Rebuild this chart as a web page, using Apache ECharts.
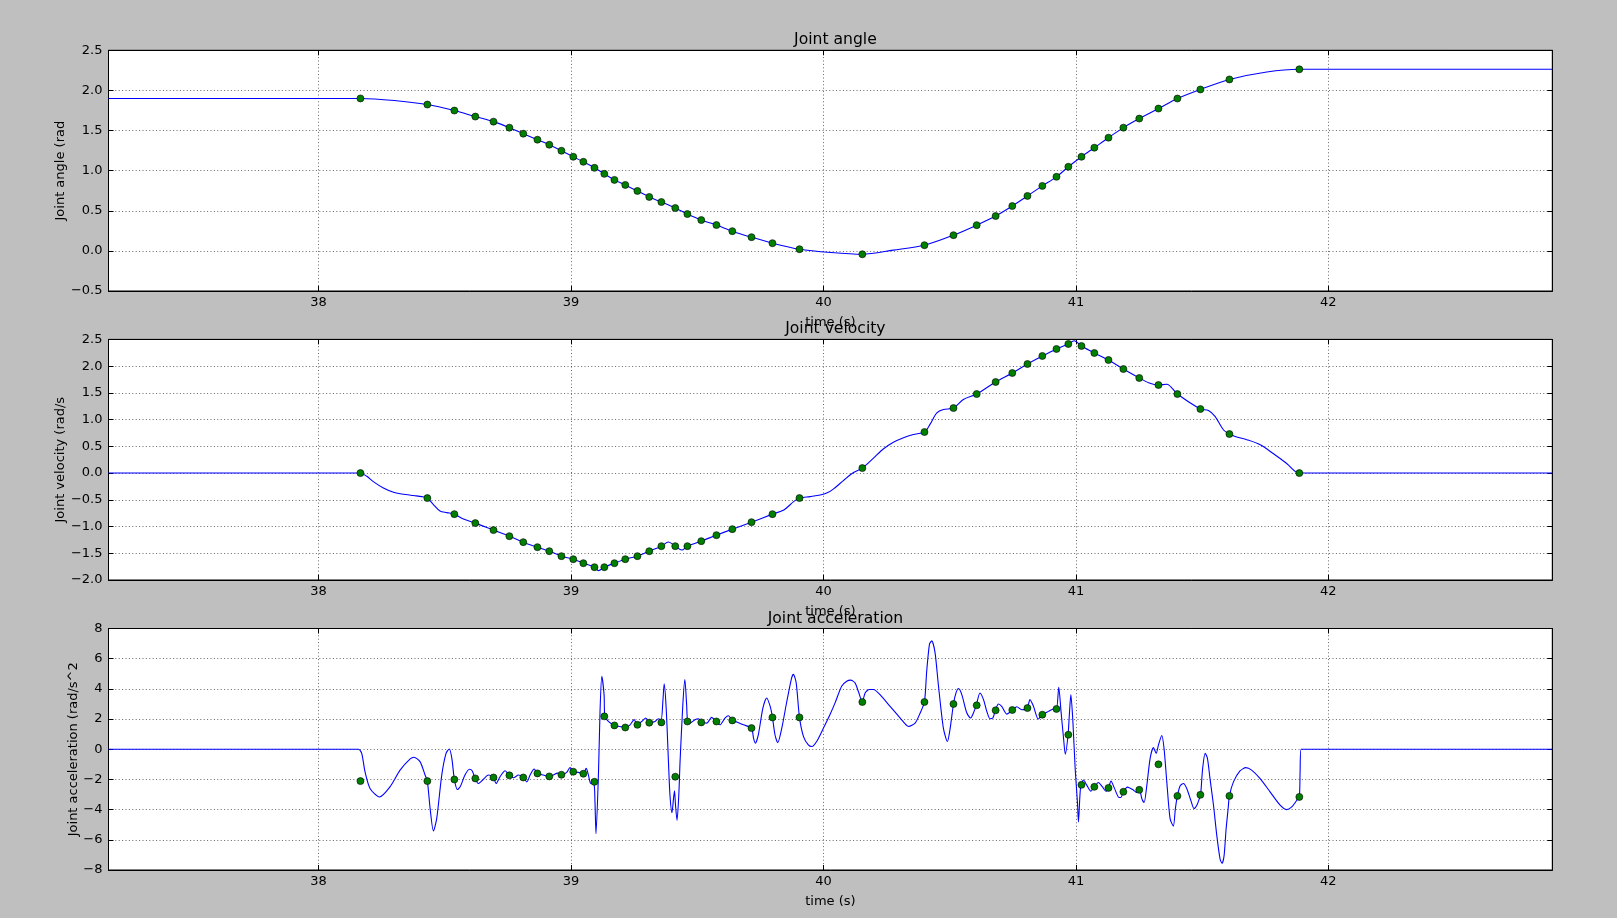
<!DOCTYPE html>
<html><head><meta charset="utf-8">
<script src="https://cdn.jsdelivr.net/npm/echarts@6/dist/echarts.min.js"></script>
<style>html,body{margin:0;padding:0;background:#bfbfbf}#chart{width:1617px;height:918px}</style>
</head><body><div id="chart"></div>
<script>
// ---------------- data ----------------
const titles = ['Joint angle', 'Joint velocity', 'Joint acceleration'];
const yNames = ['Joint angle (rad', 'Joint velocity (rad/s', 'Joint acceleration (rad/s^2'];
const xName = 'time (s)';
const xTicks = [38, 39, 40, 41, 42];
const angleTicks = [-0.5, 0.0, 0.5, 1.0, 1.5, 2.0, 2.5];
const velocityTicks = [-2.0, -1.5, -1.0, -0.5, 0.0, 0.5, 1.0, 1.5, 2.0, 2.5];
const accelTicks = [-8, -6, -4, -2, 0, 2, 4, 6, 8];

const waypointTimes = [38.166, 38.431, 38.538, 38.621, 38.693, 38.756, 38.811, 38.867, 38.914, 38.962, 39.009, 39.049, 39.093, 39.132, 39.172, 39.215, 39.263, 39.310, 39.358, 39.413, 39.461, 39.516, 39.576, 39.639, 39.715, 39.798, 39.905, 40.154, 40.400, 40.515, 40.607, 40.682, 40.748, 40.808, 40.867, 40.923, 40.970, 41.022, 41.073, 41.129, 41.188, 41.251, 41.327, 41.402, 41.493, 41.608, 41.885];
const waypointAngle = [1.90, 1.824, 1.749, 1.674, 1.611, 1.536, 1.461, 1.386, 1.323, 1.248, 1.173, 1.110, 1.035, 0.960, 0.885, 0.822, 0.747, 0.672, 0.609, 0.534, 0.459, 0.384, 0.322, 0.246, 0.171, 0.096, 0.021, -0.042, 0.071, 0.196, 0.321, 0.434, 0.559, 0.685, 0.810, 0.923, 1.048, 1.173, 1.286, 1.411, 1.536, 1.649, 1.774, 1.899, 2.012, 2.137, 2.263];
const waypointVelocity = [0, -0.468, -0.768, -0.936, -1.067, -1.180, -1.292, -1.386, -1.461, -1.554, -1.611, -1.685, -1.760, -1.760, -1.685, -1.611, -1.554, -1.461, -1.367, -1.367, -1.367, -1.273, -1.161, -1.049, -0.918, -0.768, -0.468, 0.093, 0.767, 1.216, 1.478, 1.703, 1.871, 2.040, 2.190, 2.321, 2.414, 2.377, 2.246, 2.115, 1.946, 1.778, 1.647, 1.478, 1.198, 0.730, 0];
const waypointAccel = [-2.11, -2.11, -2.00, -1.93, -1.87, -1.73, -1.87, -1.60, -1.80, -1.69, -1.49, -1.62, -2.16, 2.18, 1.58, 1.44, 1.62, 1.76, 1.78, -1.82, 1.84, 1.78, 1.84, 1.91, 1.40, 2.11, 2.11, 3.13, 3.13, 3.00, 2.91, 2.58, 2.60, 2.73, 2.29, 2.67, 0.96, -2.36, -2.49, -2.56, -2.82, -2.69, -1.00, -3.09, -3.02, -3.09, -3.16];

const angleCurveT = [37.168, 38.166, 38.300, 38.431, 38.538, 38.621, 38.693, 38.756, 38.811, 38.867, 38.914, 38.962, 39.009, 39.049, 39.093, 39.132, 39.172, 39.215, 39.263, 39.310, 39.358, 39.413, 39.461, 39.516, 39.576, 39.639, 39.715, 39.798, 39.905, 40.030, 40.154, 40.277, 40.400, 40.515, 40.607, 40.682, 40.748, 40.808, 40.867, 40.923, 40.970, 41.022, 41.073, 41.129, 41.188, 41.251, 41.327, 41.402, 41.493, 41.608, 41.756, 41.885, 42.887];
const angleCurveV = [1.900, 1.900, 1.875, 1.824, 1.749, 1.674, 1.611, 1.536, 1.461, 1.386, 1.323, 1.248, 1.173, 1.110, 1.035, 0.960, 0.885, 0.822, 0.747, 0.672, 0.609, 0.534, 0.459, 0.384, 0.322, 0.246, 0.171, 0.096, 0.021, -0.020, -0.042, 0.010, 0.071, 0.196, 0.321, 0.434, 0.559, 0.685, 0.810, 0.923, 1.048, 1.173, 1.286, 1.411, 1.536, 1.649, 1.774, 1.899, 2.012, 2.137, 2.230, 2.263, 2.263];

const velocityCurveT = [37.168, 38.166, 38.191, 38.217, 38.257, 38.297, 38.330, 38.376, 38.409, 38.431, 38.455, 38.481, 38.508, 38.538, 38.574, 38.621, 38.693, 38.756, 38.811, 38.867, 38.914, 38.962, 39.009, 39.049, 39.093, 39.109, 39.132, 39.172, 39.215, 39.263, 39.310, 39.358, 39.386, 39.413, 39.439, 39.461, 39.516, 39.576, 39.639, 39.715, 39.798, 39.843, 39.883, 39.905, 39.947, 39.987, 40.013, 40.039, 40.079, 40.119, 40.154, 40.198, 40.237, 40.277, 40.317, 40.356, 40.400, 40.422, 40.449, 40.475, 40.515, 40.554, 40.607, 40.682, 40.748, 40.808, 40.867, 40.923, 40.970, 40.993, 41.022, 41.073, 41.129, 41.188, 41.251, 41.288, 41.327, 41.360, 41.402, 41.493, 41.525, 41.551, 41.584, 41.608, 41.637, 41.677, 41.730, 41.783, 41.836, 41.885, 42.887];
const velocityCurveV = [0, 0, -0.06, -0.16, -0.28, -0.36, -0.39, -0.42, -0.44, -0.468, -0.59, -0.71, -0.74, -0.768, -0.86, -0.936, -1.067, -1.180, -1.292, -1.386, -1.461, -1.554, -1.611, -1.685, -1.760, -1.825, -1.760, -1.685, -1.611, -1.554, -1.461, -1.367, -1.29, -1.367, -1.44, -1.367, -1.273, -1.161, -1.049, -0.918, -0.768, -0.69, -0.53, -0.468, -0.44, -0.41, -0.375, -0.30, -0.14, 0.01, 0.093, 0.28, 0.45, 0.575, 0.66, 0.72, 0.767, 0.91, 1.125, 1.19, 1.216, 1.375, 1.478, 1.703, 1.871, 2.040, 2.190, 2.321, 2.414, 2.475, 2.377, 2.246, 2.115, 1.946, 1.778, 1.69, 1.647, 1.66, 1.478, 1.198, 1.17, 1.06, 0.81, 0.730, 0.675, 0.625, 0.53, 0.36, 0.175, 0, 0];

const accelCurveT = [37.168, 38.158, 38.171, 38.184, 38.204, 38.241, 38.283, 38.323, 38.363, 38.378, 38.402, 38.422, 38.431, 38.442, 38.455, 38.468, 38.488, 38.505, 38.518, 38.528, 38.538, 38.550, 38.561, 38.580, 38.598, 38.609, 38.620, 38.633, 38.650, 38.673, 38.693, 38.703, 38.719, 38.739, 38.756, 38.772, 38.792, 38.811, 38.825, 38.838, 38.854, 38.867, 38.891, 38.914, 38.930, 38.946, 38.962, 38.983, 38.996, 39.010, 39.029, 39.049, 39.060, 39.069, 39.078, 39.091, 39.095, 39.099, 39.109, 39.115, 39.122, 39.131, 39.134, 39.148, 39.171, 39.194, 39.217, 39.234, 39.250, 39.263, 39.280, 39.297, 39.311, 39.333, 39.346, 39.357, 39.364, 39.369, 39.377, 39.386, 39.392, 39.400, 39.406, 39.410, 39.414, 39.420, 39.427, 39.432, 39.443, 39.451, 39.458, 39.462, 39.472, 39.491, 39.505, 39.518, 39.538, 39.557, 39.575, 39.590, 39.610, 39.624, 39.639, 39.657, 39.683, 39.715, 39.723, 39.730, 39.742, 39.760, 39.775, 39.789, 39.798, 39.808, 39.819, 39.835, 39.855, 39.874, 39.881, 39.892, 39.905, 39.921, 39.940, 39.954, 39.973, 40.000, 40.026, 40.046, 40.072, 40.092, 40.108, 40.125, 40.138, 40.154, 40.165, 40.182, 40.198, 40.224, 40.264, 40.304, 40.337, 40.363, 40.383, 40.400, 40.409, 40.420, 40.429, 40.442, 40.455, 40.475, 40.491, 40.502, 40.515, 40.525, 40.535, 40.548, 40.568, 40.583, 40.594, 40.605, 40.620, 40.634, 40.647, 40.660, 40.671, 40.681, 40.693, 40.706, 40.726, 40.749, 40.766, 40.785, 40.807, 40.818, 40.832, 40.851, 40.867, 40.891, 40.911, 40.923, 40.932, 40.941, 40.951, 40.958, 40.969, 40.974, 40.980, 40.988, 40.997, 41.006, 41.010, 41.016, 41.020, 41.030, 41.043, 41.059, 41.073, 41.089, 41.105, 41.119, 41.129, 41.139, 41.152, 41.168, 41.178, 41.188, 41.204, 41.228, 41.241, 41.252, 41.261, 41.270, 41.281, 41.294, 41.307, 41.318, 41.327, 41.340, 41.349, 41.360, 41.373, 41.386, 41.394, 41.402, 41.413, 41.426, 41.439, 41.455, 41.468, 41.479, 41.489, 41.494, 41.502, 41.512, 41.521, 41.531, 41.545, 41.558, 41.571, 41.579, 41.587, 41.595, 41.603, 41.608, 41.624, 41.650, 41.673, 41.696, 41.729, 41.769, 41.809, 41.835, 41.855, 41.875, 41.885, 41.888, 41.892, 42.887];
const accelCurveV = [0, 0, -0.27, -1.49, -2.60, -3.16, -2.49, -1.38, -0.64, -0.53, -0.82, -1.71, -2.11, -3.93, -5.42, -4.60, -1.71, -0.27, 0.02, -0.60, -2.00, -2.67, -2.49, -1.71, -1.33, -1.44, -1.93, -2.27, -2.04, -1.71, -1.87, -2.27, -1.82, -1.42, -1.73, -1.89, -1.71, -1.87, -2.16, -1.71, -1.31, -1.60, -1.71, -1.80, -1.71, -1.58, -1.69, -1.53, -1.22, -1.49, -1.53, -1.62, -1.27, -1.71, -2.27, -2.30, -3.50, -5.60, -1.49, 2.51, 4.84, 3.62, 2.18, 1.84, 1.58, 1.51, 1.44, 1.62, 1.96, 1.62, 1.84, 2.07, 1.76, 1.84, 2.02, 1.95, 3.20, 4.33, 2.73, -0.82, -3.04, -4.20, -3.27, -2.76, -3.71, -4.71, -3.04, -0.82, 2.96, 4.62, 2.96, 1.84, 1.73, 1.96, 2.02, 1.78, 1.73, 2.11, 1.84, 1.62, 2.07, 2.22, 1.91, 1.80, 1.62, 1.40, 0.73, 0.40, 0.96, 2.73, 3.40, 2.84, 2.11, 0.96, 0.44, 1.40, 3.18, 4.73, 4.96, 4.40, 2.11, 0.84, 0.29, 0.18, 0.51, 1.40, 2.30, 3.07, 4.18, 4.51, 4.58, 4.40, 3.84, 3.13, 3.73, 3.96, 3.96, 3.62, 2.84, 2.07, 1.51, 1.73, 2.40, 3.13, 5.18, 6.96, 7.18, 6.40, 4.29, 1.40, 0.51, 1.40, 3.00, 3.73, 4.02, 3.62, 2.40, 2.07, 2.40, 2.91, 3.73, 3.29, 2.51, 2.02, 2.07, 2.58, 3.00, 2.84, 2.33, 2.60, 2.82, 2.62, 2.73, 3.29, 2.84, 2.00, 2.29, 2.51, 2.67, 2.67, 4.11, 2.51, 0.73, -0.33, 0.96, 2.29, 3.62, 1.84, -1.27, -3.49, -4.82, -3.04, -2.36, -2.04, -2.38, -2.78, -2.49, -2.20, -2.49, -2.78, -2.56, -2.11, -2.56, -3.16, -3.20, -2.82, -2.51, -2.71, -2.87, -2.69, -3.27, -3.53, -2.38, -0.60, 0.11, -0.27, 0.29, 0.91, 0.07, -2.16, -4.60, -5.09, -3.93, -3.09, -2.42, -2.27, -2.60, -3.38, -3.93, -3.71, -3.27, -3.02, -1.27, -0.27, -0.60, -1.93, -3.71, -5.71, -7.27, -7.56, -7.04, -5.27, -3.93, -3.09, -2.16, -1.44, -1.22, -1.38, -1.93, -2.82, -3.71, -4.00, -3.82, -3.38, -3.16, -1.49, 0, 0];

// ---------------- layout / style ----------------
const FONT = 'DejaVu Sans';
const X_MIN = 37.168, X_MAX = 42.887;
const boxes = [{top: 50.3, height: 240.7, nameGap: 41}, {top: 339.4, height: 240.6, nameGap: 41}, {top: 628.5, height: 241.5, nameGap: 28}];
const LEFT = 108.5, RIGHT = 1617 - 1552.3;
const zip = (a, b) => a.map((t, i) => [t, b[i]]);
const minus = s => s.replace('-', '\u2212');
const panels = [
  {ticks: angleTicks, dec: 1, smooth: 0.3, curve: zip(angleCurveT, angleCurveV), dots: zip(waypointTimes, waypointAngle)},
  {ticks: velocityTicks, dec: 1, smooth: 0.3, curve: zip(velocityCurveT, velocityCurveV), dots: zip(waypointTimes, waypointVelocity)},
  {ticks: accelTicks, dec: 0, smooth: 0.25, curve: zip(accelCurveT, accelCurveV), dots: zip(waypointTimes, waypointAccel)}
];
const gridLine = {show: true, lineStyle: {color: '#000', opacity: 0.6, width: 1, type: [1, 2.4]}};
const axisLine = {show: true, onZero: false, lineStyle: {color: '#000', width: 1}};
const labelStyle = {color: '#000', fontSize: 13, fontFamily: FONT};

const option = {animation: false, backgroundColor: '#bfbfbf', title: [], grid: [], xAxis: [], yAxis: [], series: []};
panels.forEach((p, i) => {
  const b = boxes[i];
  option.grid.push({left: LEFT, right: RIGHT, top: b.top, height: b.height, show: true, backgroundColor: '#fff', borderColor: '#000', borderWidth: 1});
  option.title.push({text: titles[i], left: (LEFT + 1617 - RIGHT) / 2, top: b.top - 23, textAlign: 'center',
    textStyle: {fontFamily: FONT, fontSize: 15.6, fontWeight: 'normal', color: '#000'}});
  const yMin = p.ticks[0], yMax = p.ticks[p.ticks.length - 1], yStep = p.ticks[1] - p.ticks[0];
  const xIdx = option.xAxis.length, yIdx = option.yAxis.length;
  option.xAxis.push({gridIndex: i, type: 'value', min: X_MIN, max: X_MAX, splitNumber: 5, position: 'bottom',
    name: xName, nameLocation: 'middle', nameGap: 25, nameMoveOverlap: false, nameTextStyle: labelStyle,
    axisLine, axisTick: {show: true, inside: true, length: 5, lineStyle: {color: '#000'}},
    axisLabel: {...labelStyle, margin: 5, showMinLabel: false, showMaxLabel: false,
      formatter: v => (xTicks.includes(v) ? String(v) : '')},
    splitLine: gridLine});
  option.xAxis.push({gridIndex: i, type: 'value', min: X_MIN, max: X_MAX, splitNumber: 5, position: 'top',
    axisLine, axisTick: {show: true, inside: true, length: 5, lineStyle: {color: '#000'}},
    axisLabel: {show: false}, splitLine: {show: false}});
  option.yAxis.push({gridIndex: i, type: 'value', min: yMin, max: yMax, interval: yStep, position: 'left',
    name: yNames[i], nameLocation: 'middle', nameGap: b.nameGap, nameMoveOverlap: false, nameRotate: 90, nameTextStyle: labelStyle,
    axisLine, axisTick: {show: true, inside: true, length: 5, lineStyle: {color: '#000'}},
    axisLabel: {...labelStyle, margin: 6, formatter: v => minus(v.toFixed(p.dec))},
    splitLine: gridLine});
  option.yAxis.push({gridIndex: i, type: 'value', min: yMin, max: yMax, interval: yStep, position: 'right',
    axisLine, axisTick: {show: true, inside: true, length: 5, lineStyle: {color: '#000'}},
    axisLabel: {show: false}, splitLine: {show: false}});
  option.series.push({type: 'line', xAxisIndex: xIdx, yAxisIndex: yIdx, data: p.curve, showSymbol: false,
    smooth: p.smooth, lineStyle: {color: '#0000ff', width: 1.1}, z: 2});
  option.series.push({type: 'scatter', xAxisIndex: xIdx, yAxisIndex: yIdx, data: p.dots, symbol: 'circle', symbolSize: 7,
    itemStyle: {color: '#008000', borderColor: '#000', borderWidth: 0.6, opacity: 1}, z: 3});
});
const chart = echarts.init(document.getElementById('chart'), null, {renderer: 'canvas'});
chart.setOption(option);
</script></body></html>
